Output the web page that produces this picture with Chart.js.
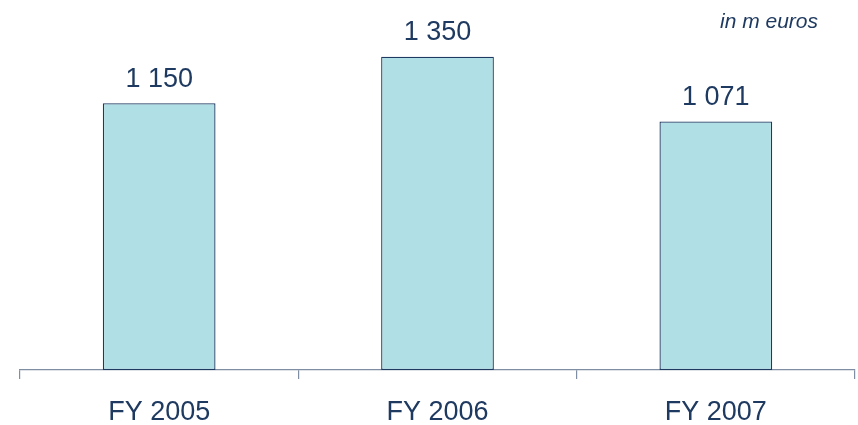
<!DOCTYPE html>
<html>
<head>
<meta charset="utf-8">
<script src="https://cdn.jsdelivr.net/npm/chart.js@4/dist/chart.umd.min.js"></script>
<style>
  html, body { margin: 0; padding: 0; background: #ffffff; }
  #wrap { width: 858px; height: 425px; }
</style>
</head>
<body>
<div id="wrap"><canvas id="c" width="858" height="425"></canvas></div>
<script>
// Revenue by fiscal year, in millions of euros
const categories = ['FY 2005', 'FY 2006', 'FY 2007'];
const revenue = [1150, 1350, 1071];
const unitNote = 'in m euros';

const NAVY = '#1f3a60';
const AXIS = '#7f8ea3';
const FONT = '"Liberation Sans", Arial, sans-serif';

// Formats numbers with a space as thousands separator: 1150 -> "1 150"
function fmt(v) {
  return String(v).replace(/\B(?=(\d{3})+(?!\d))/g, ' ');
}

const valueLabels = {
  id: 'valueLabels',
  afterDatasetsDraw(chart) {
    const ctx = chart.ctx;
    const meta = chart.getDatasetMeta(0);
    ctx.save();
    ctx.font = '27px ' + FONT;
    ctx.fillStyle = NAVY;
    ctx.textAlign = 'center';
    ctx.textBaseline = 'middle';
    meta.data.forEach((bar, i) => {
      ctx.fillText(fmt(chart.data.datasets[0].data[i]), bar.x, bar.y - 24);
    });
    // unit note, top right
    ctx.font = 'italic 21px ' + FONT;
    ctx.textAlign = 'right';
    ctx.textBaseline = 'alphabetic';
    ctx.fillText(unitNote, 818, 28);
    ctx.restore();
  }
};

new Chart(document.getElementById('c'), {
  type: 'bar',
  data: {
    labels: categories,
    datasets: [{
      data: revenue,
      backgroundColor: '#b0dfe5',
      borderColor: NAVY,
      borderWidth: 1.3,
      borderSkipped: false,
      barPercentage: 0.81,
      categoryPercentage: 0.5
    }]
  },
  options: {
    responsive: false,
    animation: false,
    devicePixelRatio: 1,
    layout: { padding: { top: 22, left: 20, right: 3, bottom: 0 } },
    plugins: { legend: { display: false }, tooltip: { enabled: false } },
    scales: {
      y: {
        display: false,
        min: 0,
        max: 1500
      },
      x: {
        offset: true,
        grid: {
          offset: true,
          drawOnChartArea: false,
          drawTicks: true,
          tickLength: 9,
          color: AXIS,
          lineWidth: 1.2
        },
        border: { display: true, color: AXIS, width: 1.2 },
        ticks: {
          color: NAVY,
          font: { family: FONT, size: 27 },
          padding: 17,
          maxRotation: 0
        },
        afterFit(scale) { scale.height = 55; }
      }
    }
  },
  plugins: [valueLabels]
});
</script>
</body>
</html>
